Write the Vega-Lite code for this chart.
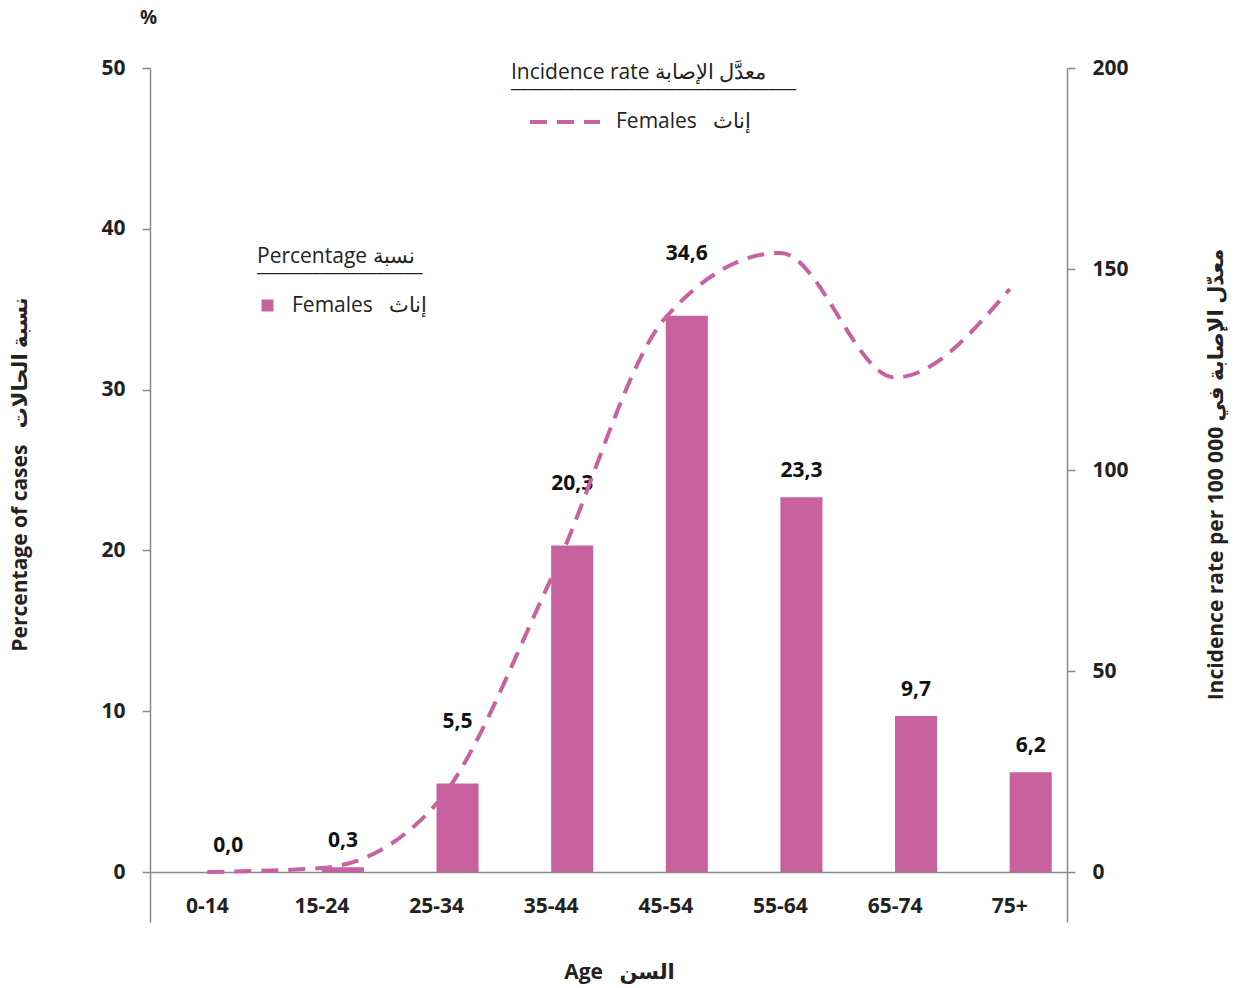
{
  "$schema": "https://vega.github.io/schema/vega-lite/v6.json",
  "width": 917,
  "height": 854,
  "autosize": {"type": "none"},
  "padding": {"left": 150, "top": 68, "right": 175, "bottom": 66},
  "background": "white",
  "title": {"text": "%", "anchor": "start", "frame": "group", "offset": 29, "dx": -10, "fontSize": 19, "fontWeight": "bold", "font": "Open Sans", "color": "#222222"},
  "data": {
    "values": [
      {"age": "0-14", "pct": 0.0, "rate": 0, "sex": "Females"},
      {"age": "15-24", "pct": 0.3, "rate": 1, "sex": "Females"},
      {"age": "25-34", "pct": 5.5, "rate": 17, "sex": "Females"},
      {"age": "35-44", "pct": 20.3, "rate": 73, "sex": "Females"},
      {"age": "45-54", "pct": 34.6, "rate": 138, "sex": "Females"},
      {"age": "55-64", "pct": 23.3, "rate": 154, "sex": "Females"},
      {"age": "65-74", "pct": 9.7, "rate": 123, "sex": "Females"},
      {"age": "75+", "pct": 6.2, "rate": 145, "sex": "Females"}
    ]
  },
  "transform": [
    {"calculate": "replace(format(datum.pct, '.1f'), '.', ',')", "as": "label"}
  ],
  "encoding": {
    "x": {
      "field": "age", "type": "nominal", "sort": null,
      "scale": {"paddingInner": 0.633, "paddingOuter": 0.3165},
      "axis": {
        "title": "Age\u00a0\u00a0\u00a0السن", "labelAngle": 0, "ticks": false, "domain": false,
        "labelBaseline": "middle", "labelPadding": -16,
        "labelFont": "Open Sans", "labelFontSize": 21, "labelFontWeight": "bold", "labelColor": "#222222",
        "titleFont": "Open Sans, DejaVu Sans", "titleFontSize": 21, "titleFontWeight": "bold", "titleColor": "#222222",
        "titleX": 469, "titleY": 50, "titleBaseline": "middle", "titleAnchor": "middle", "titleAlign": "center"
      }
    }
  },
  "layer": [
    {
      "layer": [
        {
          "mark": {"type": "bar", "xOffset": 21},
          "encoding": {
            "y": {
              "field": "pct", "type": "quantitative",
              "scale": {"domain": [-3.109, 50], "nice": false, "zero": false},
              "axis": {
                "values": [0, 10, 20, 30, 40, 50], "title": "Percentage of cases\u00a0\u00a0\u00a0نسبة الحالات",
                "domainColor": "#8a8a8a", "domainWidth": 1.5, "tickColor": "#8a8a8a", "tickWidth": 1.5, "tickSize": 8,
                "labelPadding": 17, "labelFont": "Open Sans", "labelFontSize": 21, "labelFontWeight": "bold", "labelColor": "#222222",
                "grid": true, "gridColor": "#8a8a8a", "gridWidth": 1.5,
                "gridOpacity": {"condition": {"test": "datum.value === 0", "value": 1}, "value": 0},
                "titleFont": "Open Sans, DejaVu Sans", "titleFontSize": 21, "titleFontWeight": "bold", "titleColor": "#222222",
                "titleAngle": 270, "titleX": -130, "titleY": 406, "titleBaseline": "middle", "titleAlign": "center", "titleAnchor": null
              }
            },
            "fill": {
              "field": "sex", "type": "nominal",
              "scale": {"range": ["#C8629F"]},
              "legend": {
                "title": ["Percentage نسبة", "__________________"],
                "orient": "none", "legendX": 107, "legendY": 178, "titlePadding": 20,
                "symbolType": "square", "symbolSize": 144, "symbolStrokeWidth": 0,
                "labelExpr": "'Females\u00a0\u00a0\u00a0إناث'", "labelOffset": 14
              }
            }
          }
        },
        {
          "transform": [{"filter": "indexof(['25-34','35-44','45-54'], datum.age) < 0"}],
          "mark": {"type": "text", "xOffset": 21, "dy": -26, "baseline": "middle", "font": "Open Sans", "fontSize": 21, "fontWeight": "bold", "color": "#111111"},
          "encoding": {"y": {"field": "pct", "type": "quantitative"}, "text": {"field": "label"}}
        },
        {
          "transform": [{"filter": "indexof(['25-34','35-44','45-54'], datum.age) >= 0"}],
          "mark": {"type": "text", "xOffset": 21, "dy": -62, "baseline": "middle", "font": "Open Sans", "fontSize": 21, "fontWeight": "bold", "color": "#111111"},
          "encoding": {"y": {"field": "pct", "type": "quantitative"}, "text": {"field": "label"}}
        }
      ]
    },
    {
      "mark": {"type": "line", "color": "#C8629F", "strokeWidth": 4, "interpolate": "monotone"},
      "encoding": {
        "y": {
          "field": "rate", "type": "quantitative",
          "scale": {"domain": [-12.436, 200], "nice": false, "zero": false},
          "axis": {
            "orient": "right", "values": [0, 50, 100, 150, 200], "title": "Incidence rate per 100 000 معدّل الإصابة في",
            "domainColor": "#8a8a8a", "domainWidth": 1.5, "tickColor": "#8a8a8a", "tickWidth": 1.5, "tickSize": 8,
            "labelPadding": 17, "labelFont": "Open Sans", "labelFontSize": 21, "labelFontWeight": "bold", "labelColor": "#222222",
            "grid": false,
            "titleFont": "Open Sans, DejaVu Sans", "titleFontSize": 21, "titleFontWeight": "bold", "titleColor": "#222222",
            "titleAngle": 270, "titleX": 149, "titleY": 406, "titleBaseline": "middle", "titleAlign": "center", "titleAnchor": null
          }
        },
        "strokeDash": {
          "field": "sex", "type": "nominal",
          "scale": {"range": [[17, 10]]},
          "legend": {
            "title": ["Incidence rate معدَّل الإصابة", "_______________________________"],
            "orient": "none", "legendX": 361, "legendY": -6, "titlePadding": -6,
            "symbolType": "stroke", "symbolSize": 4900, "symbolStrokeWidth": 4, "symbolStrokeColor": "#C8629F", "symbolDash": [17, 8],
            "symbolOffset": 17,
            "labelExpr": "'Females\u00a0\u00a0\u00a0إناث'", "labelOffset": 14
          }
        }
      }
    }
  ],
  "resolve": {"scale": {"y": "independent"}},
  "config": {
    "view": {"stroke": null},
    "legend": {
      "padding": 0,
      "titleFont": "Open Sans", "titleFontSize": 21, "titleFontWeight": "normal", "titleColor": "#222222",
      "titleLineHeight": 8,
      "labelFont": "Open Sans", "labelFontSize": 21, "labelColor": "#222222", "labelLimit": 400, "titleLimit": 500
    }
  }
}
